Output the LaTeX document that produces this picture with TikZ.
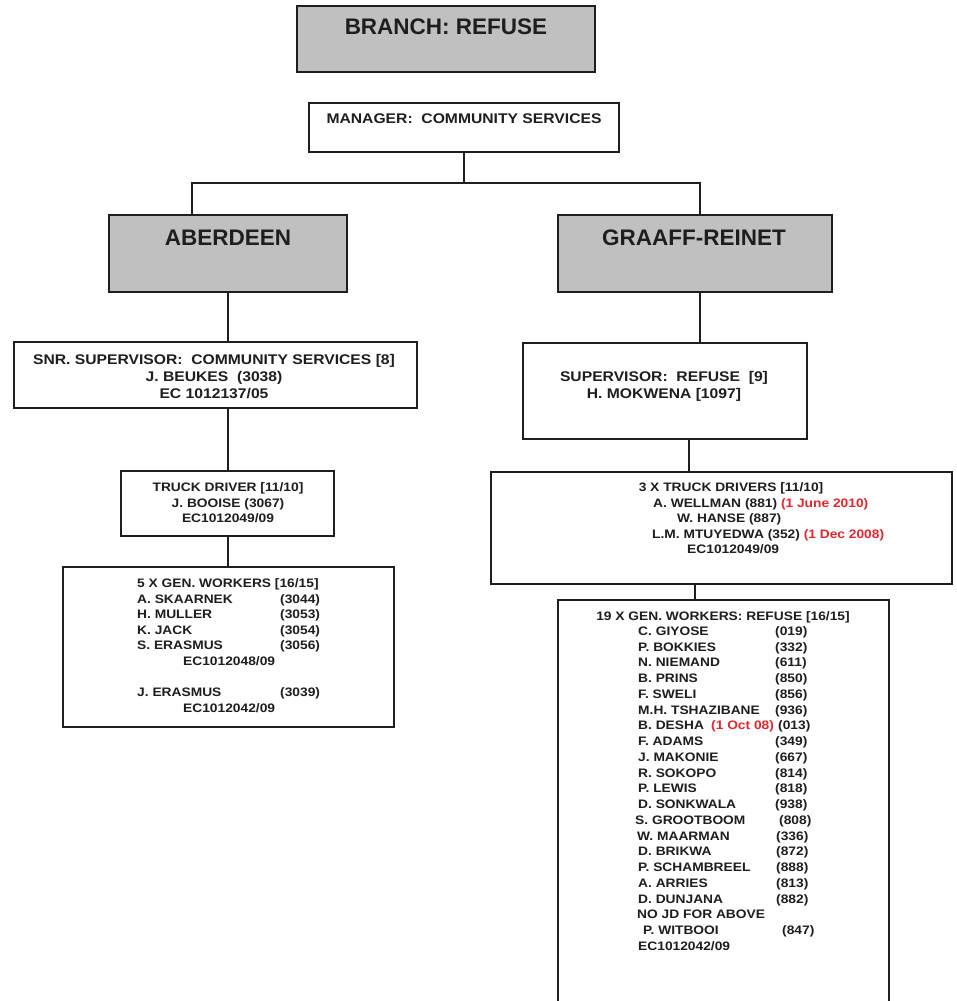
\documentclass[tikz,border=0pt]{standalone}
\usepackage{fontspec}
\setmainfont{Liberation Sans}
\newfontfamily\orgfont[FakeStretch=1.12]{Liberation Sans}
\usetikzlibrary{calc}
\definecolor{boxgray}{HTML}{C0C0C0}
\definecolor{datered}{HTML}{E0282E}
\definecolor{ink}{HTML}{1E1E1E}
\tikzset{
  box/.style={draw=ink, line width=1.5pt, inner sep=0pt, fill=white},
  unitbox/.style={box, fill=boxgray},
  link/.style={draw=ink, line width=1.3pt},
  headtxt/.style={inner sep=0pt, font=\fontsize{22.5}{23}\selectfont\bfseries, text height=16.1pt, text depth=0pt, text=ink},
  midtxt/.style={inner sep=0pt, font=\orgfont\fontsize{14}{15}\selectfont\bfseries, text height=10pt, text depth=0pt, text=ink},
  smalltxt/.style={inner sep=0pt, font=\orgfont\fontsize{12.3}{13}\selectfont\bfseries, text height=8.8pt, text depth=0pt, text=ink, anchor=west},
  redtxt/.style={smalltxt, text=datered},
}
\begin{document}
\begin{tikzpicture}[x=1pt, y=-1pt]
\useasboundingbox (0,0) rectangle (957,1001);
\fill[white] (0,0) rectangle (957,1001);
\clip (0,0) rectangle (957,1001);

% ---- boxes ----
\node[unitbox, minimum width=298pt, minimum height=66pt] (branch) at (446,39) {};
\node[box, minimum width=310pt, minimum height=49pt] (manager) at (464,127.5) {};
\node[unitbox, minimum width=238pt, minimum height=77pt] (aberdeen) at (228,253.5) {};
\node[unitbox, minimum width=274pt, minimum height=77pt] (graaff) at (695,253.5) {};
\node[box, minimum width=403pt, minimum height=66pt] (snr) at (215.5,375) {};
\node[box, minimum width=284pt, minimum height=96pt] (super) at (665,391) {};
\node[box, minimum width=213pt, minimum height=65pt] (truck) at (227.5,503.5) {};
\node[box, minimum width=461pt, minimum height=112pt] (drivers) at (721.5,528) {};
\node[box, minimum width=331pt, minimum height=160pt] (gwA) at (228.5,647) {};
\node[box, minimum width=331pt, minimum height=410pt] (gwB) at (723.5,805) {};

% ---- connectors ----
\coordinate (busL) at (192,183);
\coordinate (busR) at (700,183);
\coordinate (dropS) at (689,0);
\coordinate (dropD) at (695,0);
\draw[link] (manager.south) -- (manager.south |- busL);
\draw[link] (aberdeen.north -| busL) -- (busL) -- (busR) -- (graaff.north -| busR);
\draw[link] (aberdeen.south) -- (snr.north -| aberdeen.south);
\draw[link] (snr.south -| aberdeen.south) -- (truck.north -| aberdeen.south);
\draw[link] (truck.south -| aberdeen.south) -- (gwA.north -| aberdeen.south);
\draw[link] (graaff.south -| busR) -- (super.north -| busR);
\draw[link] (super.south -| dropS) -- (drivers.north -| dropS);
\draw[link] (drivers.south -| dropD) -- (gwB.north -| dropD);

% ---- headings ----
\node[headtxt] (branch-t) at (446,26.5) {BRANCH: REFUSE};
\node[headtxt] (aberdeen-t) at (228,237) {ABERDEEN};
\node[headtxt] (graaff-t) at (694,237) {GRAAFF-REINET};
\node[midtxt] (manager-t) at (464,118.5) {MANAGER:\ \ COMMUNITY SERVICES};

% ---- Aberdeen staff ----
\node[midtxt] (snr-1) at (214,359) {SNR. SUPERVISOR:\ \ COMMUNITY SERVICES [8]};
\node[midtxt] (snr-2) at (214,376) {J. BEUKES\ \ (3038)};
\node[midtxt] (snr-3) at (214,393) {EC 1012137/05};

\node[smalltxt, anchor=center] (truck-1) at (228,487) {TRUCK DRIVER [11/10]};
\node[smalltxt, anchor=center] (truck-2) at (228,503) {J. BOOISE (3067)};
\node[smalltxt, anchor=center] (truck-3) at (228,518) {EC1012049/09};

\node[smalltxt] (gwA-h) at (137,583) {5 X GEN. WORKERS [16/15]};
\foreach \nm/\num/\y [count=\i] in {A. SKAARNEK/(3044)/599, H. MULLER/(3053)/614,
    K. JACK/(3054)/630, S. ERASMUS/(3056)/645, J. ERASMUS/(3039)/692} {
  \node[smalltxt] (gwA-n\i) at (137,\y) {\nm};
  \node[smalltxt] (gwA-v\i) at (280,\y) {\num};
}
\node[smalltxt] (gwA-ec1) at (183,661) {EC1012048/09};
\node[smalltxt] (gwA-ec2) at (183,708) {EC1012042/09};

% ---- Graaff-Reinet staff ----
\node[midtxt] (super-1) at (664,376) {SUPERVISOR:\ \ REFUSE\ \ [9]};
\node[midtxt] (super-2) at (664,393) {H. MOKWENA [1097]};

\node[smalltxt, anchor=center] (drv-h) at (731,487) {3 X TRUCK DRIVERS [11/10]};
\node[smalltxt] (drv-1) at (653,503) {A. WELLMAN (881) \textcolor{datered}{(1 June 2010)}};
\node[smalltxt] (drv-2) at (677,518) {W. HANSE (887)};
\node[smalltxt] (drv-3) at (652,534) {L.M. MTUYEDWA (352) \textcolor{datered}{(1 Dec 2008)}};
\node[smalltxt] (drv-4) at (687,549) {EC1012049/09};

\node[smalltxt, anchor=center] (gwB-h) at (723,616) {19 X GEN. WORKERS: REFUSE [16/15]};
\foreach \nm/\num/\y/\xn/\xv [count=\i] in {
    C. GIYOSE/(019)/631/638/775, P. BOKKIES/(332)/647/638/775,
    N. NIEMAND/(611)/662/638/775, B. PRINS/(850)/678/638/775,
    F. SWELI/(856)/694/638/775, M.H. TSHAZIBANE/(936)/710/638/775,
    F. ADAMS/(349)/741/638/775, J. MAKONIE/(667)/757/638/775,
    R. SOKOPO/(814)/773/638/775, P. LEWIS/(818)/788/638/775,
    D. SONKWALA/(938)/804/638/775, S. GROOTBOOM/(808)/820/635/779,
    W. MAARMAN/(336)/836/637/776, D. BRIKWA/(872)/851/638/776,
    P. SCHAMBREEL/(888)/867/638/776, A. ARRIES/(813)/883/638/776,
    D. DUNJANA/(882)/899/638/776, P. WITBOOI/(847)/930/643/782} {
  \node[smalltxt] (gwB-n\i) at (\xn,\y) {\nm};
  \node[smalltxt] (gwB-v\i) at (\xv,\y) {\num};
}
\node[smalltxt] (gwB-desha) at (638,725) {B. DESHA};
\node[redtxt] (gwB-desha-d) at (711,725) {(1 Oct 08)};
\node[smalltxt] (gwB-desha-v) at (778,725) {(013)};
\node[smalltxt] (gwB-nojd) at (637,914) {NO JD FOR ABOVE};
\node[smalltxt] (gwB-ec) at (638,946) {EC1012042/09};
\end{tikzpicture}
\end{document}
